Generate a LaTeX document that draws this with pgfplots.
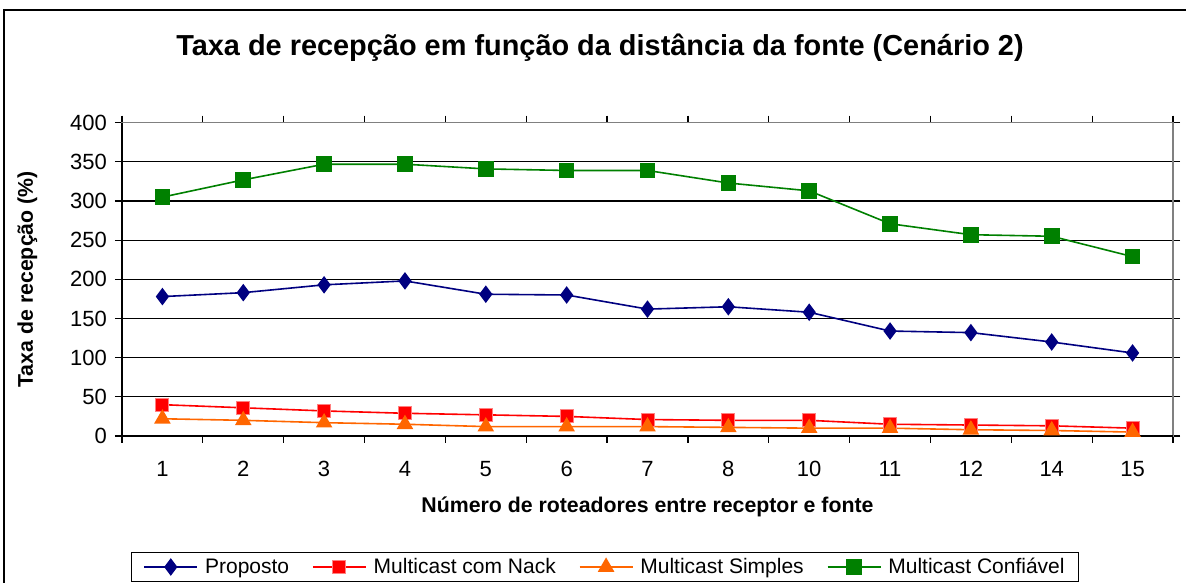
\documentclass[border=0pt]{standalone}
\usepackage{fontspec}
\setmainfont{Liberation Sans}
\usepackage{pgfplots}
\pgfplotsset{compat=1.18}
\definecolor{navyb}{HTML}{000080}
\definecolor{orng}{HTML}{FF6600}
\definecolor{grn}{HTML}{008000}
\definecolor{pinkf}{HTML}{FF8080}
\begin{document}
\begin{tikzpicture}[x=1pt,y=1pt]
\useasboundingbox (0,0) rectangle (1186,583);
\draw[line width=1.6pt] (4,-20) -- (4,573) -- (1220,573);
\node[font=\fontsize{28.9}{32}\selectfont\bfseries, anchor=base] at (600,527) {Taxa de recepção em função da distância da fonte (Cenário 2)};
\begin{axis}[
  at={(122pt,147pt)}, anchor=south west,
  scale only axis, width=1051pt, height=313.3pt,
  xmin=-0.5, xmax=12.5, ymin=0, ymax=400,
  ytick={0,50,...,400},
  xtick={-0.5,0.5,...,12.5}, xticklabels={},
  extra x ticks={0,1,...,12},
  extra x tick labels={1,2,3,4,5,6,7,8,10,11,12,14,15},
  extra x tick style={major tick length=0pt, tick label style={anchor=base, yshift=-41pt}},
  tick align=outside, major tick length=7pt,
  tick style={black, line width=1.2pt},
  ymajorgrids, grid style={black, line width=1.2pt},
  axis line style={draw=gray, line width=1.2pt},
  /pgf/number format/assume math mode=true,
  tick label style={font=\fontsize{22}{26}\selectfont},
  yticklabel style={inner xsep=0pt, xshift=-8pt},
  xlabel={Número de roteadores entre receptor e fonte},
  ylabel={Taxa de recepção (\%)},
  label style={font=\fontsize{21.3}{24}\selectfont\bfseries},
  xlabel style={at={(axis description cs:0.5,-0.2426)}, anchor=base},
  ylabel style={at={(axis description cs:-0.0847,0.5)}, anchor=base},
  legend columns=4,
  legend style={at={(axis description cs:0.00856,-0.3703)}, anchor=north west,
    draw=black, line width=1pt, fill=white,
    font=\fontsize{21}{24}\selectfont,
    inner xsep=12pt, inner ysep=4pt,
    /tikz/every odd column/.append style={column sep=5pt},
    /tikz/every even column/.append style={column sep=21pt}},
  legend image code/.code={\draw[mark repeat=2,mark phase=2] plot coordinates {(0pt,0pt) (26.5pt,0pt) (53pt,0pt)};},
  clip=false,
]
\addplot[navyb, line width=1.6pt, mark=diamond*, mark size=7.5pt, mark options={solid, fill=navyb}]
  coordinates {(0,178) (1,183) (2,193) (3,198) (4,181) (5,180) (6,162) (7,165) (8,158) (9,134) (10,132) (11,120) (12,106)};
\addlegendentry{Proposto}
\addplot[red, line width=1.6pt, mark=square*, mark size=6.5pt, mark options={solid, draw=pinkf, line width=1pt, fill=red}]
  coordinates {(0,40) (1,36) (2,32) (3,29) (4,27) (5,25) (6,21) (7,20) (8,20) (9,15) (10,14) (11,13) (12,10)};
\addlegendentry{Multicast com Nack}
\addplot[orng, line width=1.6pt, mark=triangle*, mark size=8pt, mark options={solid, fill=orng}]
  coordinates {(0,22) (1,20) (2,17) (3,15) (4,12) (5,12) (6,12) (7,11) (8,10) (9,10) (10,8) (11,7) (12,5)};
\addlegendentry{Multicast Simples}
\addplot[grn, line width=1.6pt, mark=square*, mark size=7pt, mark options={solid, fill=grn}]
  coordinates {(0,305) (1,327) (2,347) (3,347) (4,341) (5,339) (6,339) (7,323) (8,313) (9,271) (10,257) (11,255) (12,229)};
\addlegendentry{Multicast Confiável}
\draw[black, line width=1.4pt] (rel axis cs:0,1) -- (rel axis cs:0,0) -- (rel axis cs:1,0);
\end{axis}
\end{tikzpicture}
\end{document}
